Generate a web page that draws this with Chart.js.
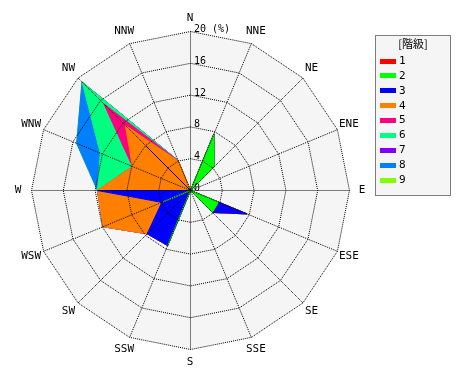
<!DOCTYPE html>
<html>
<head>
<meta charset="utf-8">
<script src="https://cdn.jsdelivr.net/npm/chart.js@4"></script>
<style>
  body { margin: 0; background: #fff; }
  canvas { display: block; }
</style>
</head>
<body>
<canvas id="roseChart" width="470" height="380"></canvas>
<script>
const directions = ["N", "NNE", "NE", "ENE", "E", "ESE", "SE", "SSE", "S", "SSW", "SW", "WSW", "W", "WNW", "NW", "NNW"];

// frequency (%) per class, one value per direction
const class1 = [0, 0, 0, 0, 0, 0, 0, 0, 0, 0, 0, 0, 0, 0, 0, 0];
const class2 = [0, 7.7, 4.2, 0, 0, 3.8, 3.9, 0, 0, 7.4, 0, 3.7, 0, 0, 0, 0];
const class3 = [0, 0, 0, 0, 0, 3.9, 0, 0, 0, 0.1, 7.7, 0.2, 11.7, 0, 7.9, 0];
const class4 = [0, 0, 0, 0, 0, 0, 0, 0, 0, 0, 0, 8.0, 0, 7.9, 3.7, 4.0];
const class5 = [0, 0, 0, 0, 0, 0, 0, 0, 0, 0, 0, 0, 0, 0, 3.8, 0.05];
const class6 = [0, 0, 0, 0, 0, 0, 0, 0, 0, 0, 0, 0, 0, 4.4, 3.9, 0.05];
const class7 = [0, 0, 0, 0, 0, 0, 0, 0, 0, 0, 0, 0, 0, 0, 0, 0];
const class8 = [0, 0, 0, 0, 0, 0, 0, 0, 0, 0, 0, 0, 0, 3.2, 0, 0];
const class9 = [0, 0, 0, 0, 0, 0, 0, 0, 0, 0, 0, 0, 0, 0, 0, 0];

const classLabels = ["1", "2", "3", "4", "5", "6", "7", "8", "9"];
const classColors = ["#ff0000", "#00ff00", "#0000ff", "#ff8000", "#ff0080", "#00ff80", "#8000ff", "#0080ff", "#80ff00"];
const tickValues = [0, 4, 8, 12, 16, 20];
const legendTitle = "[階級]";

const classData = [class1, class2, class3, class4, class5, class6, class7, class8, class9];

// stacked (cumulative) values so each class polygon sits on the previous ones
const running = directions.map(() => 0);
const datasets = classData.map((values, k) => {
  const cum = values.map((v, i) => {
    running[i] += v;
    return +running[i].toFixed(2);
  });
  return {
    label: classLabels[k],
    data: cum,
    backgroundColor: classColors[k],
    borderColor: classColors[k],
    borderWidth: 1,
    pointRadius: 0,
    fill: "origin",
    tension: 0
  };
});

const monoFont = "'DejaVu Sans Mono', monospace";

const roseBackground = {
  id: "roseBackground",
  beforeDraw(chart) {
    const scale = chart.scales.r;
    const ctx = chart.ctx;
    // half-pixel shift keeps the dotted grid crisp; undone in afterDraw
    ctx.save();
    ctx.translate(0.5, 0.5);
    ctx.save();
    ctx.beginPath();
    for (let i = 0; i < directions.length; i++) {
      const p = scale.getPointPosition(i, scale.drawingArea);
      if (i === 0) ctx.moveTo(p.x, p.y);
      else ctx.lineTo(p.x, p.y);
    }
    ctx.closePath();
    ctx.fillStyle = "#f5f5f5";
    ctx.fill();
    ctx.restore();
  }
};

const roseLabels = {
  id: "roseLabels",
  afterDraw(chart) {
    const scale = chart.scales.r;
    const ctx = chart.ctx;
    ctx.restore();
    ctx.save();

    // direction labels
    ctx.fillStyle = "#000";
    ctx.font = "11px " + monoFont;
    ctx.textAlign = "center";
    ctx.textBaseline = "middle";
    directions.forEach((d, i) => {
      const p = scale.getPointPosition(i, scale.drawingArea + 13);
      ctx.fillText(d, p.x, p.y);
    });

    // radial tick labels along the north axis
    ctx.font = "10px " + monoFont;
    ctx.textAlign = "left";
    ctx.textBaseline = "alphabetic";
    tickValues.forEach((v) => {
      const y = scale.yCenter - scale.getDistanceFromCenterForValue(v) + 1;
      const text = v === 20 ? v + " (%)" : String(v);
      ctx.fillText(text, scale.xCenter + 4, y);
    });

    // legend box
    const lx = 375.5, ly = 35.5, lw = 75, lh = 160;
    ctx.fillStyle = "#f5f5f5";
    ctx.fillRect(lx, ly, lw, lh);
    ctx.setLineDash([1, 1]);
    ctx.strokeStyle = "#000";
    ctx.lineWidth = 1;
    ctx.strokeRect(lx, ly, lw, lh);
    ctx.setLineDash([]);

    ctx.fillStyle = "#000";
    ctx.font = "11px 'Noto Sans CJK JP', sans-serif";
    ctx.textAlign = "center";
    ctx.textBaseline = "middle";
    ctx.fillText(legendTitle, 413, 44);

    ctx.font = "11px " + monoFont;
    ctx.textAlign = "left";
    classLabels.forEach((label, k) => {
      const y = 60.5 + k * 14.9;
      ctx.fillStyle = classColors[k];
      ctx.fillRect(380, Math.round(y) - 2, 16, 5);
      ctx.fillStyle = "#000";
      ctx.fillText(label, 399, y + 0.5);
    });

    ctx.restore();
  }
};

new Chart(document.getElementById("roseChart").getContext("2d"), {
  type: "radar",
  data: {
    labels: directions,
    datasets: datasets
  },
  options: {
    responsive: false,
    animation: false,
    layout: {
      padding: { left: 31, top: 31, right: 121, bottom: 31 }
    },
    plugins: {
      legend: { display: false },
      tooltip: { enabled: false },
      title: { display: false }
    },
    elements: {
      line: { tension: 0 }
    },
    scales: {
      r: {
        min: 0,
        max: 20,
        ticks: { display: false, stepSize: 4 },
        pointLabels: { display: false },
        grid: {
          circular: false,
          color: "#000",
          lineWidth: 1,
          z: 1
        },
        border: { dash: [1, 1] },
        angleLines: {
          display: true,
          color: "#000",
          lineWidth: 1,
          borderDash: [1, 1]
        }
      }
    }
  },
  plugins: [roseBackground, roseLabels]
});
</script>
</body>
</html>
